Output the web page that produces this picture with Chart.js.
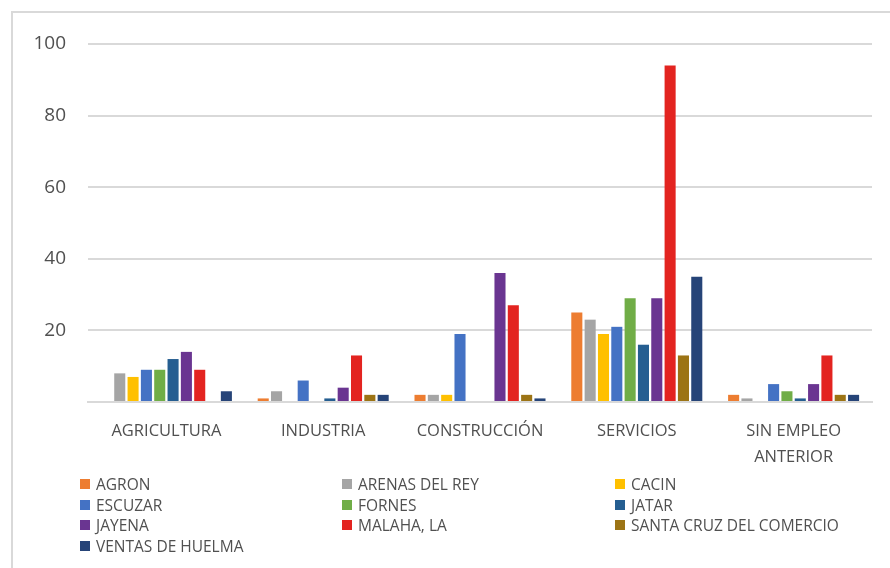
<!DOCTYPE html>
<html>
<head>
<meta charset="utf-8">
<script src="https://cdn.jsdelivr.net/npm/chart.js@4/dist/chart.umd.min.js"></script>
<style>
  body { margin: 0; background: #fff; font-family: 'Open Sans', sans-serif; }
  #wrap { position: relative; width: 890px; height: 568px; overflow: hidden; }
  #frame { position: absolute; left: 11px; top: 11px; width: 900px; height: 600px;
           border-left: 2px solid #d9d9d9; border-top: 2px solid #d9d9d9; }
  canvas { position: absolute; left: 0; top: 0; }
  #legend { position: absolute; left: 80px; top: 475px; width: 800px;
            display: grid; grid-template-columns: 262px 273px 260px; row-gap: 2px; }
  .item { display: flex; align-items: center; font-size: 15.5px; color: #505050; height: 18.5px; white-space: nowrap; }
  .box { width: 10px; height: 10px; margin-right: 6px; flex: none; }
</style>
</head>
<body>
<div id="wrap">
  <div id="frame"></div>
  <canvas id="chart" width="890" height="568"></canvas>
  <div id="legend"></div>
</div>
<script>
const categories = ['AGRICULTURA', 'INDUSTRIA', 'CONSTRUCCIÓN', 'SERVICIOS', ['SIN EMPLEO', 'ANTERIOR']];

const agron      = [0, 1, 2, 25, 2];
const arenas     = [8, 3, 2, 23, 1];
const cacin      = [7, 0, 2, 19, 0];
const escuzar    = [9, 6, 19, 21, 5];
const fornes     = [9, 0, 0, 29, 3];
const jatar      = [12, 1, 0, 16, 1];
const jayena     = [14, 4, 36, 29, 5];
const malaha     = [9, 13, 27, 94, 13];
const santaCruz  = [0, 2, 2, 13, 2];
const ventas     = [3, 2, 1, 35, 2];

const seriesNames = ['AGRON', 'ARENAS DEL REY', 'CACIN', 'ESCUZAR', 'FORNES', 'JATAR',
                     'JAYENA', 'MALAHA, LA', 'SANTA CRUZ DEL COMERCIO', 'VENTAS DE HUELMA'];
const seriesData = [agron, arenas, cacin, escuzar, fornes, jatar, jayena, malaha, santaCruz, ventas];
const seriesColors = ['#ED7D31', '#A5A5A5', '#FFC000', '#4472C4', '#70AD47', '#255E91',
                      '#6A3591', '#E32420', '#9C7415', '#264478'];

const yTicks = [20, 40, 60, 80, 100];

const datasets = seriesNames.map((name, i) => ({
  label: name,
  data: seriesData[i],
  backgroundColor: seriesColors[i],
  categoryPercentage: 0.85,
  barPercentage: 0.83
}));

const ctx = document.getElementById('chart').getContext('2d');
const chart = new Chart(ctx, {
  type: 'bar',
  data: { labels: categories, datasets: datasets },
  options: {
    responsive: false,
    animation: false,
    layout: { padding: { top: 44, right: 18, left: 0, bottom: 0 } },
    plugins: { legend: { display: false }, tooltip: { enabled: false } },
    scales: {
      x: {
        grid: { display: false },
        border: { color: '#d9d9d9', width: 2 },
        ticks: { color: '#505050', font: { family: 'Open Sans', size: 16.5, lineHeight: 1.55 }, padding: 9, maxRotation: 0 },
        afterFit: (scale) => { scale.height = 166; }
      },
      y: {
        min: 0,
        max: 100,
        afterBuildTicks: (scale) => { scale.ticks = [0].concat(yTicks).map(v => ({ value: v })); },
        grid: { color: '#d9d9d9', lineWidth: 2, drawTicks: false },
        border: { display: false },
        ticks: {
          color: '#505050',
          font: { family: 'Open Sans', size: 19 },
          padding: 22,
          callback: (v) => (v === 0 ? '' : v)
        },
        afterFit: (scale) => { scale.width = 88; }
      }
    }
  }
});

const legend = document.getElementById('legend');
chart.data.datasets.forEach((ds) => {
  const item = document.createElement('div');
  item.className = 'item';
  const box = document.createElement('span');
  box.className = 'box';
  box.style.background = ds.backgroundColor;
  const txt = document.createElement('span');
  txt.textContent = ds.label;
  item.appendChild(box);
  item.appendChild(txt);
  legend.appendChild(item);
});
</script>
</body>
</html>
